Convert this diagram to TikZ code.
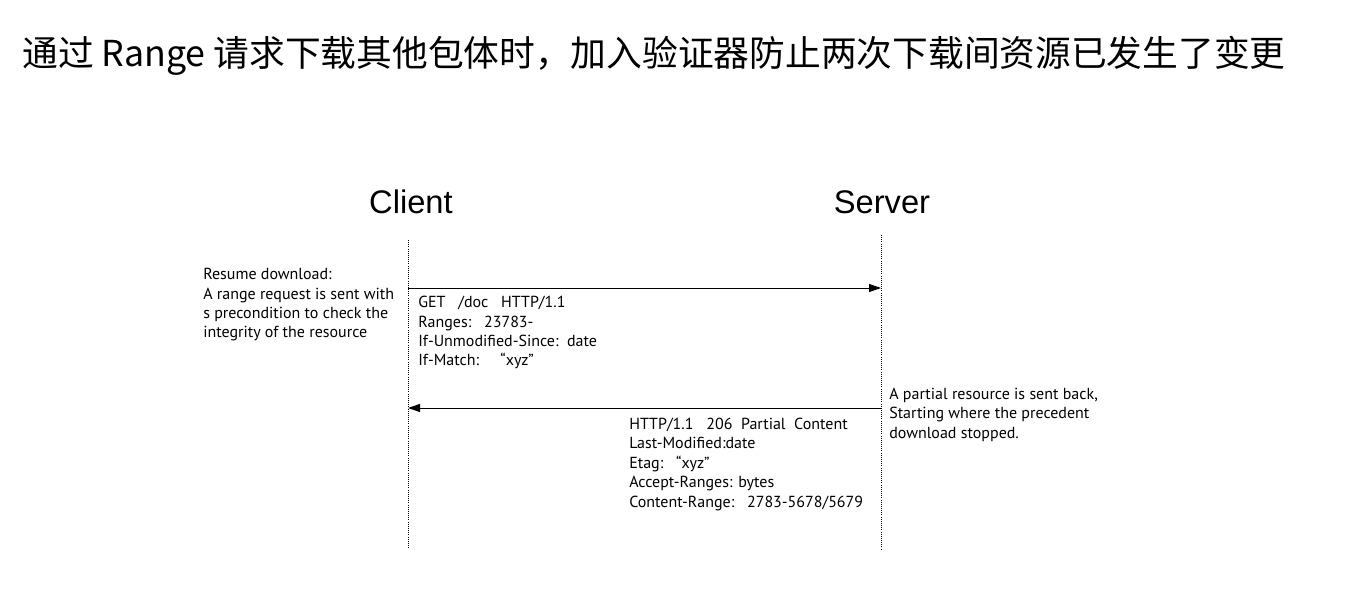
\documentclass[tikz,border=0pt]{standalone}
\usepackage{fontspec}
\setmainfont{PT Sans}
\newfontfamily\headfont{Liberation Sans}
\newfontfamily\cjk{Noto Sans CJK SC}
\usetikzlibrary{arrows.meta}

\tikzset{
  lifeline/.style={densely dotted, line width=0.6pt},
  msg/.style={line width=0.7pt, -{Triangle[length=9pt,width=6pt]}},
  note/.style={anchor=base west, inner sep=0pt, align=left, font=\fontsize{12}{14.6}\selectfont},
  party/.style={anchor=base, inner sep=0pt, font=\headfont\fontsize{24.5}{28}\selectfont}
}

\begin{document}
\begin{tikzpicture}[x=0.75pt,y=0.75pt,yscale=-1,xscale=1]
\useasboundingbox (0,0) rectangle (1345,598);

% Title
\node[anchor=base west, inner sep=0pt, font=\cjk\fontsize{26.8}{30}\selectfont] (title) at (22,67) {通过 Range 请求下载其他包体时，加入验证器防止两次下载间资源已发生了变更};

% Text Node
\node[party] (client) at (411,214) {Client};
% Text Node
\node[party] (server) at (882,214) {Server};

% Lifelines
\coordinate (cTop) at (408,240);
\coordinate (cBot) at (408,549);
\coordinate (sTop) at (881,235);
\coordinate (sBot) at (881,549);
\draw[lifeline] (cTop) -- (cBot);
\draw[lifeline] (sTop) -- (sBot);

% Messages
\coordinate (c1) at (408,288);
\coordinate (s1) at (881,288);
\coordinate (s2) at (881,408);
\coordinate (c2) at (408,408);
\draw[msg] (c1) -- (s1);
\draw[msg] (s2) -- (c2);

% Text Node (anchored at the last line)
\node[note] (resume) at (203,338) {Resume download:\\A range request is sent with\\s precondition to check the\\integrity of the resource};
% Text Node
\node[note] (request) at (418,366) {GET\ \ \ /doc\ \ \ HTTP/1.1\\Ranges:\ \ \ 23783-\\If-Unmodified-Since:\ \ date\\If-Match:\ \ \ \ \ “xyz”};
% Text Node
\node[note] (partial) at (889,438) {A partial resource is sent back,\\Starting where the precedent\\download stopped.};
% Text Node
\node[note] (response) at (629,507) {HTTP/1.1\ \ \ 206\ \ Partial\ \ Content\\Last-Modified:date\\Etag:\ \ \ “xyz”\\Accept-Ranges: bytes\\Content-Range:\ \ \ 2783-5678/5679};

\end{tikzpicture}
\end{document}
